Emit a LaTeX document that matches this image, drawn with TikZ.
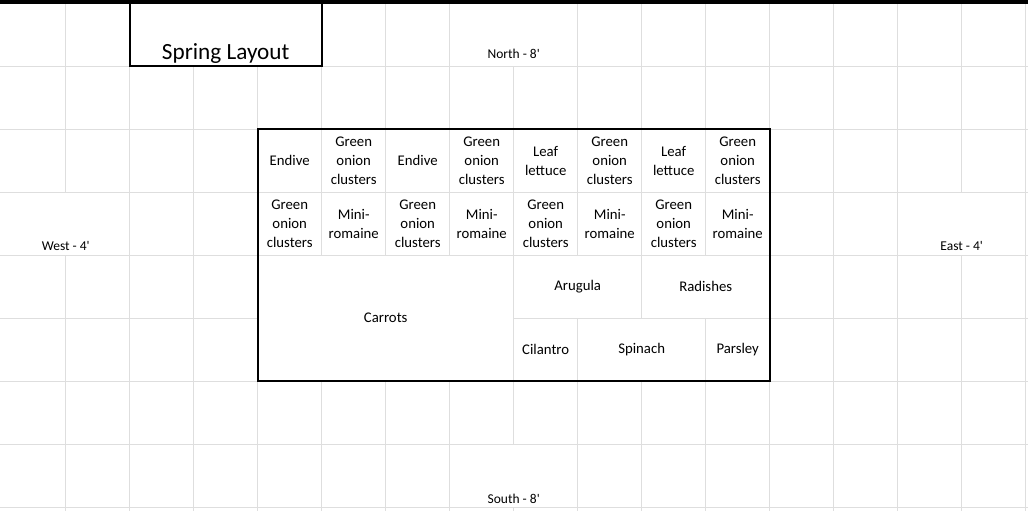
\documentclass[tikz,border=0pt]{standalone}
\usepackage{fontspec}
\setmainfont{Carlito}
\usepackage{tikz}
\usetikzlibrary{arrows.meta}
\usetikzlibrary{backgrounds}
\usepackage{xcolor}
\definecolor{cellgray}{HTML}{DEDEDE}

\begin{document}
\begin{tikzpicture}[x=1.6cm,y=-1.575cm,
    gridline/.style={draw=cellgray,line width=0.7pt},
    border/.style={draw=black,line width=1.5pt},
    bed/.style={shape=rectangle,
      align=center,
      inner sep=0pt,
      font=\fontsize{10.5}{13.5}\selectfont},
    side/.style={shape=rectangle,
      anchor=base,
      inner sep=0pt,
      font=\fontsize{9.6}{12}\selectfont}]
      %\draw[help lines] (0,0) grid (16,8); % Only for Development
      \useasboundingbox (-0.027,-0.048) rectangle (16.036,8.063);

      % sheet grid
      \foreach \c in {1,...,16}
        \draw[gridline] (\c,-0.05) -- (\c,8.07);
      \foreach \r in {1,...,8}
        \draw[gridline] (-0.03,\r) -- (16.04,\r);

      % merged cells
      \draw[gridline,fill=white] (2,0.01) rectangle (5,1);
      \draw[gridline,fill=white] (7,0.01) rectangle (9,1);
      \draw[gridline,fill=white] (-0.03,3) rectangle (2,4);
      \draw[gridline,fill=white] (14,3) rectangle (16,4);
      \draw[gridline,fill=white] (7,7) rectangle (9,8);
      \draw[gridline,fill=white] (4,4) rectangle (8,6);
      \draw[gridline,fill=white] (8,4) rectangle (10,5);
      \draw[gridline,fill=white] (10,4) rectangle (12,5);
      \draw[gridline,fill=white] (9,5) rectangle (11,6);
      \fill[black] (-0.03,-0.05) rectangle (16.04,0.01);

      % borders
      \draw[border] (2,0) -- (2,1) -- (5,1) -- (5,0);
      \draw[border] (4,2) rectangle (12,6);

      \node[side,
        font=\fontsize{16.5}{20}\selectfont] (title) at (3.5,0.894) {Spring Layout};
      \node[side] (north) at (8,0.884) {North - 8\textquotesingle};
      \node[side] (west) at (1,3.932) {West - 4\textquotesingle};
      \node[side] (east) at (15,3.932) {East - 4\textquotesingle};
      \node[side] (south) at (8,7.937) {South - 8\textquotesingle};

      % first row of the bed
      \node[bed] (endiveA) at (4.5,2.5) {Endive};
      \node[bed] (onionA) at (5.5,2.5) {Green\\onion\\clusters};
      \node[bed] (endiveB) at (6.5,2.5) {Endive};
      \node[bed] (onionB) at (7.5,2.5) {Green\\onion\\clusters};
      \node[bed] (leafA) at (8.5,2.5) {Leaf\\lettuce};
      \node[bed] (onionC) at (9.5,2.5) {Green\\onion\\clusters};
      \node[bed] (leafB) at (10.5,2.5) {Leaf\\lettuce};
      \node[bed] (onionD) at (11.5,2.5) {Green\\onion\\clusters};

      % second row of the bed
      \node[bed] (onionE) at (4.5,3.5) {Green\\onion\\clusters};
      \node[bed] (romaineA) at (5.5,3.5) {Mini-\\romaine};
      \node[bed] (onionF) at (6.5,3.5) {Green\\onion\\clusters};
      \node[bed] (romaineB) at (7.5,3.5) {Mini-\\romaine};
      \node[bed] (onionG) at (8.5,3.5) {Green\\onion\\clusters};
      \node[bed] (romaineC) at (9.5,3.5) {Mini-\\romaine};
      \node[bed] (onionH) at (10.5,3.5) {Green\\onion\\clusters};
      \node[bed] (romaineD) at (11.5,3.5) {Mini-\\romaine};

      \node[bed] (carrots) at (6,5) {Carrots};
      \node[bed] (arugula) at (9,4.5) {Arugula};
      \node[bed] (radishes) at (11,4.5) {Radishes};
      \node[bed] (cilantro) at (8.5,5.5) {Cilantro};
      \node[bed] (spinach) at (10,5.5) {Spinach};
      \node[bed] (parsley) at (11.5,5.5) {Parsley};

    \end{tikzpicture}
\end{document}
